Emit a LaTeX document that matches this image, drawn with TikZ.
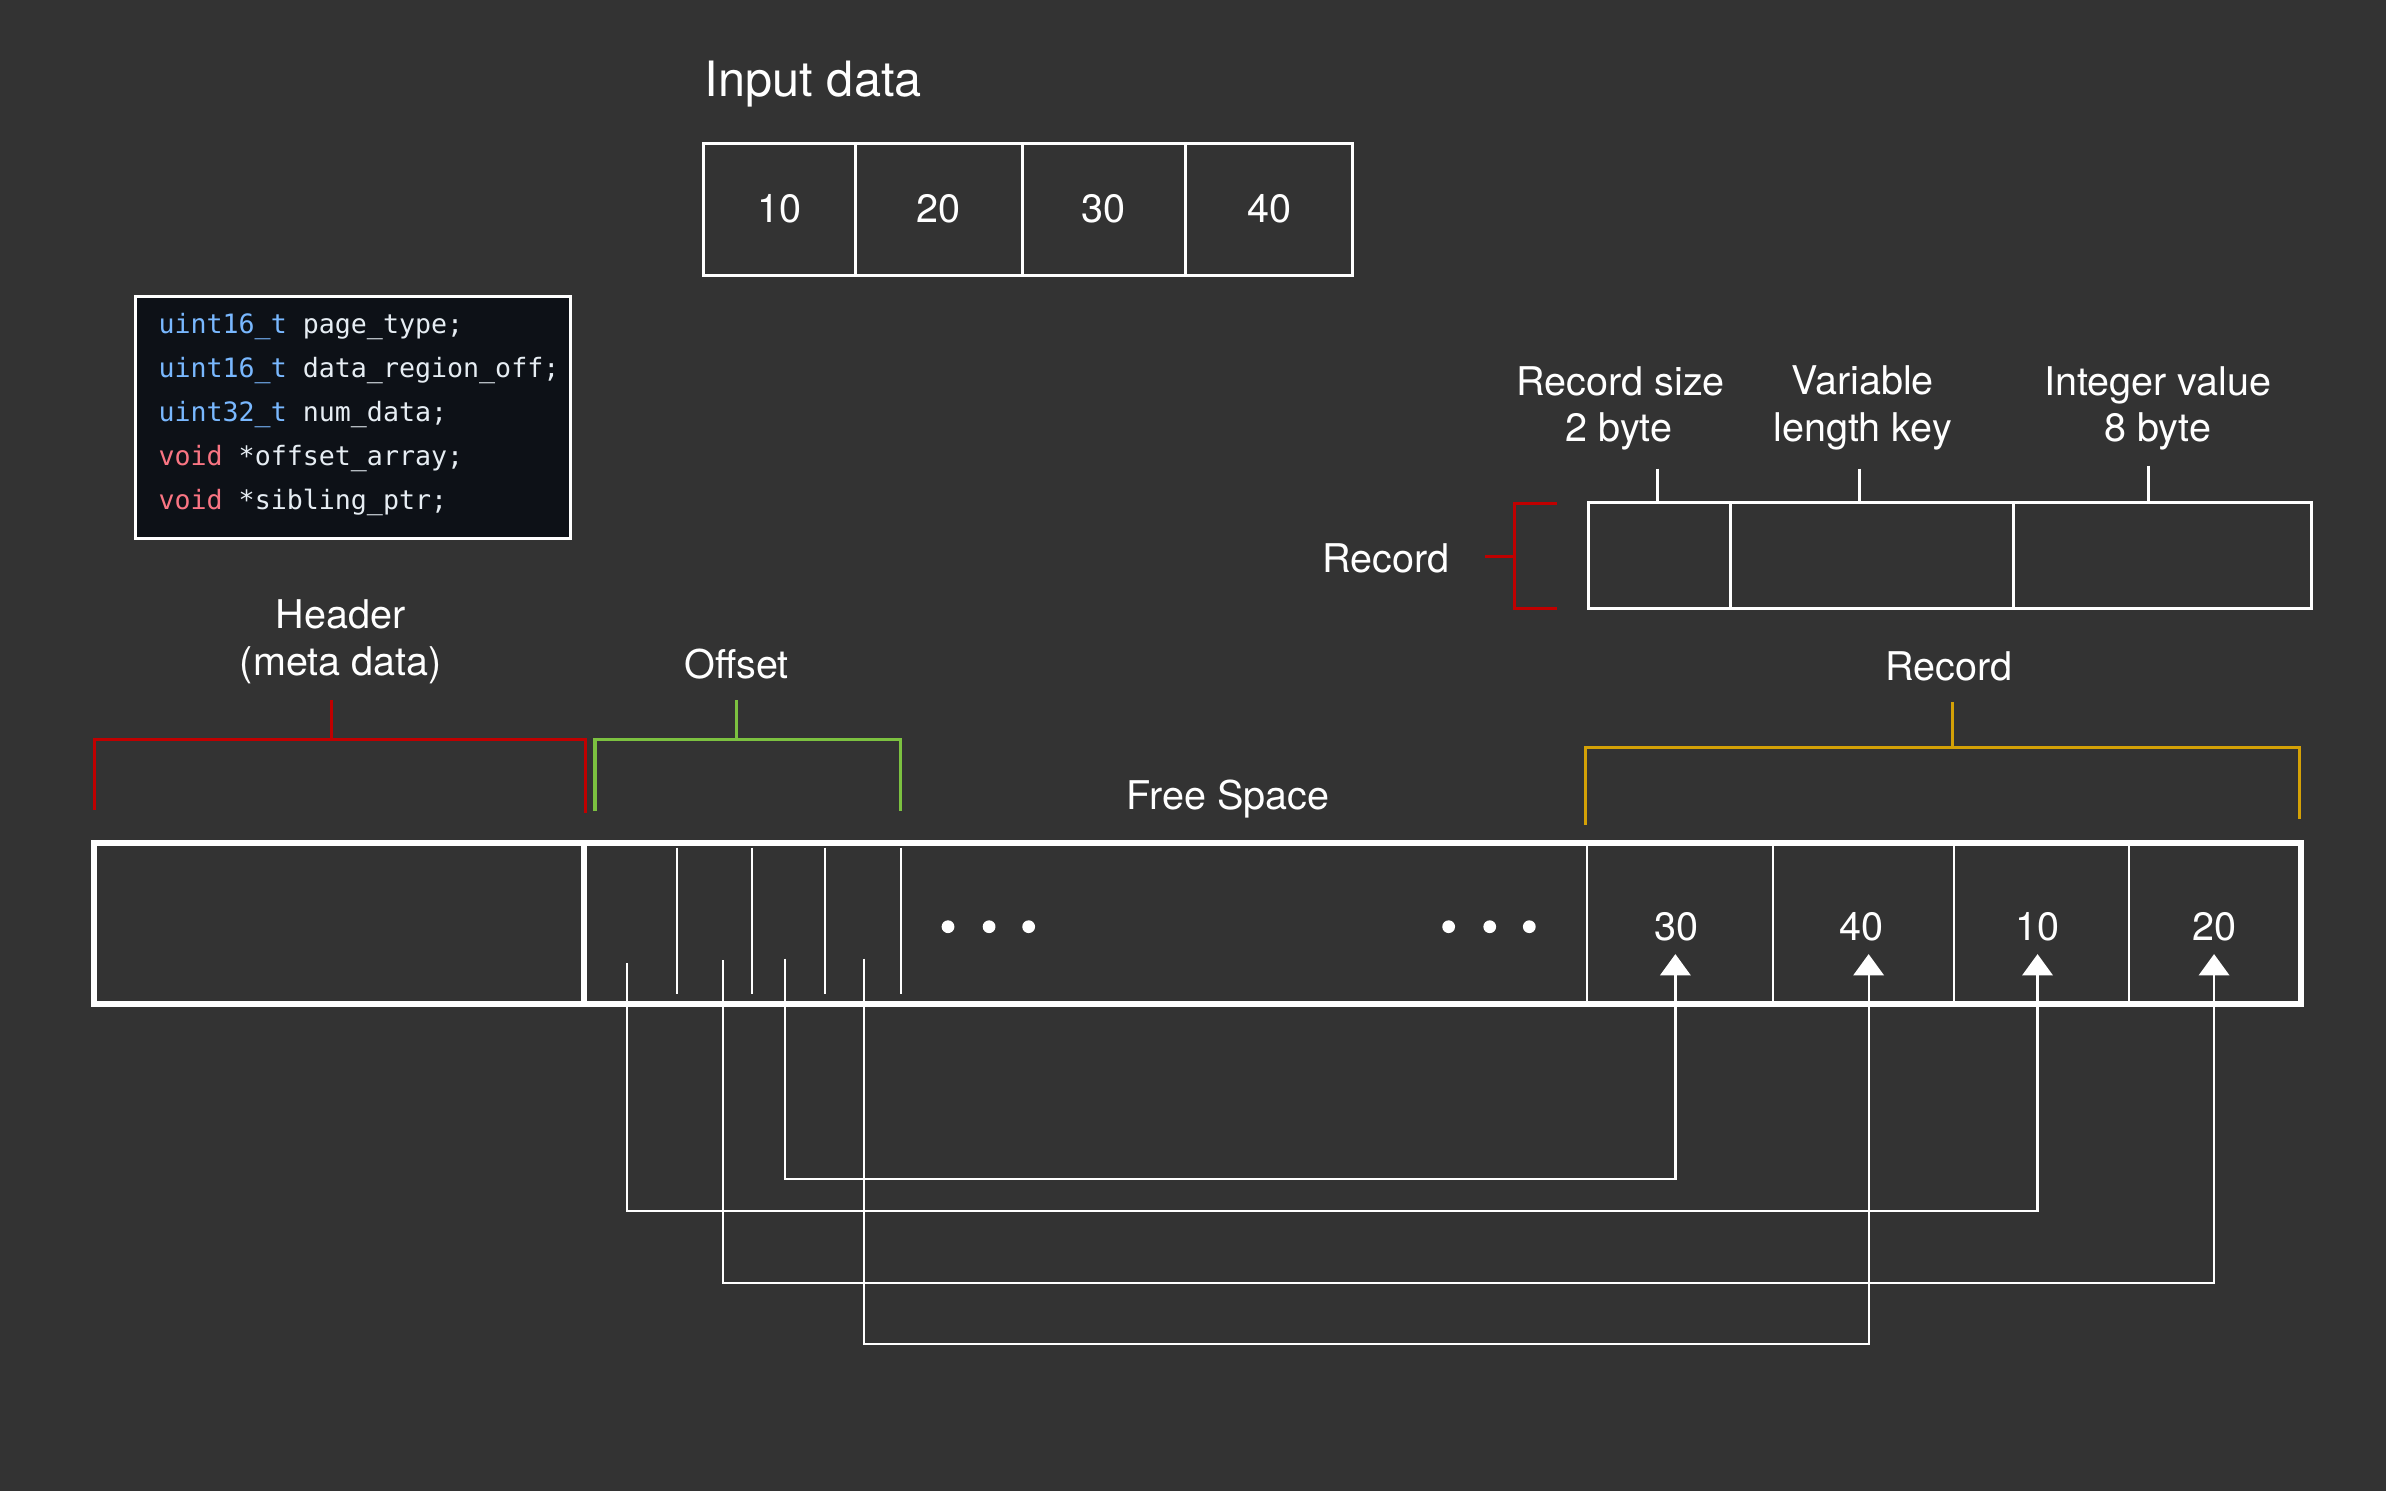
\documentclass[tikz,border=0pt]{standalone}
\usepackage{fontspec}
\setmainfont{TeX Gyre Heros}
\newfontfamily\codefont{DejaVu Sans Mono}
\usetikzlibrary{arrows.meta}
\definecolor{bg}{HTML}{333333}
\definecolor{bred}{HTML}{C00000}
\definecolor{bgreen}{HTML}{7CC140}
\definecolor{bgold}{HTML}{D4A106}
\definecolor{codebg}{HTML}{0D1117}
\definecolor{kwblue}{HTML}{79B8FF}
\definecolor{kwred}{HTML}{F97583}
\definecolor{codetx}{HTML}{E6EDF3}
\begin{document}
\begin{tikzpicture}[x=1pt,y=-1pt,
  lbl/.style={text=white, font=\fontsize{26}{31}\selectfont, inner sep=0pt, anchor=base},
  num/.style={text=white, font=\fontsize{26}{31}\selectfont, inner sep=0pt},
  inbox/.style={draw=white, line width=2pt, minimum height=87pt, inner sep=0pt, text=white, font=\fontsize{26}{31}\selectfont},
  recbox/.style={draw=white, line width=2pt, minimum height=70pt, inner sep=0pt},
  cellbox/.style={draw=white, line width=1.5pt, minimum height=106pt, inner sep=0pt},
  thin/.style={draw=white, line width=1.5pt},
  code/.style={anchor=base west, inner sep=0pt, font=\codefont\fontsize{17.5}{20}\selectfont, text=codetx},
  brk/.style={line width=2pt},
  ptr/.style={draw=white, line width=1.5pt, -{Triangle[width=20pt,length=14pt]}},
  dot/.style={fill=white, draw=none}]
% background
\fill[bg] (0,0) rectangle (1568,980);
\useasboundingbox (0,0) rectangle (1568,980);

% Input data
\node[lbl, anchor=base west, font=\fontsize{32}{38}\selectfont] (intitle) at (463,63.5) {Input data};
\node[inbox, minimum width=100pt] (in1) at (512,137.5) {10};
\node[inbox, minimum width=110pt] (in2) at (617,137.5) {20};
\node[inbox, minimum width=107pt] (in3) at (725.5,137.5) {30};
\node[inbox, minimum width=110pt] (in4) at (834,137.5) {40};

% Code box
\node[draw=white, line width=2pt, fill=codebg, minimum width=286pt, minimum height=159pt, inner sep=0pt] (codebox) at (232,274.5) {};
\node[code] (c1) at (104,219) {\textcolor{kwblue}{uint16\_t} page\_type;};
\node[code] (c2) at (104,248) {\textcolor{kwblue}{uint16\_t} data\_region\_off;};
\node[code] (c3) at (104,277) {\textcolor{kwblue}{uint32\_t} num\_data;};
\node[code] (c4) at (104,306) {\textcolor{kwred}{void} *offset\_array;};
\node[code] (c5) at (104,335) {\textcolor{kwred}{void} *sibling\_ptr;};

% Record detail
\node[lbl] (rs1) at (1065,260) {Record size};
\node[lbl] (rs2) at (1064,290) {2 byte};
\node[lbl] (vk1) at (1224,259) {Variable};
\node[lbl] (vk2) at (1224,290) {length key};
\node[lbl] (iv1) at (1418,260) {Integer value};
\node[lbl] (iv2) at (1418,290) {8 byte};
\node[recbox, minimum width=93pt] (rd1) at (1090.5,365) {};
\node[recbox, minimum width=186pt] (rd2) at (1230,365) {};
\node[recbox, minimum width=196pt] (rd3) at (1421,365) {};
\draw[thin, line width=2pt] (1089,308) -- (1089,330);
\draw[thin, line width=2pt] (1222,308) -- (1222,330);
\draw[thin, line width=2pt] (1412,306) -- (1412,330);
\node[lbl] (recred) at (911,376) {Record};
\draw[bred, brk] (1023,331) -- (995,331) -- (995,400) -- (1023,400);
\draw[bred, brk] (995,366) -- (976,366);

% Brackets above bar
\node[lbl] (hd1) at (224,413) {Header};
\node[lbl] (hd2) at (224,444) {(meta data)};
\draw[bred, brk] (62,532) -- (62,486) -- (385,486) -- (385,534);
\draw[bred, brk] (218,486) -- (218,460);
\node[lbl] (off) at (484,446) {Offset};
\draw[bgreen, brk] (391,533) -- (391,486) -- (592,486) -- (592,533);
\draw[bgreen, brk] (484,486) -- (484,460);
\node[lbl] (recgold) at (1281,447) {Record};
\draw[bgold, brk] (1042,542) -- (1042,491) -- (1511,491) -- (1511,538);
\draw[bgold, brk] (1283,491) -- (1283,461);
\node[lbl] (free) at (807,532) {Free Space};

% Main bar
\node[cellbox, minimum width=122pt] (rc1) at (1104,607) {};
\node[cellbox, minimum width=119pt] (rc2) at (1224.5,607) {};
\node[cellbox, minimum width=115pt] (rc3) at (1341.5,607) {};
\node[cellbox, minimum width=113pt] (rc4) at (1455.5,607) {};
\foreach \x in {445,494,542,592} \draw[thin] (\x,557) -- (\x,653);
\node[draw=white, line width=4pt, minimum width=1450pt, minimum height=106pt, inner sep=0pt] (bar) at (787,607) {};
\draw[white, line width=4pt] (384,554) -- (384,660);
\foreach \x in {623,650,676,952,979,1005} \fill[dot] (\x,609) circle (4.2pt);

\node[num] (r30) at (1102,609) {30};
\node[num] (r40) at (1223,609) {40};
\node[num] (r10) at (1339,609) {10};
\node[num] (r20) at (1455,609) {20};
\coordinate (t30) at (1101,627);
\coordinate (t40) at (1228,627);
\coordinate (t10) at (1339,627);
\coordinate (t20) at (1455,627);

% pointers
\coordinate (p1) at (412,633);
\coordinate (p2) at (475,631);
\coordinate (p3) at (516,630);
\coordinate (p4) at (568,630);
\coordinate (l1) at (0,796);
\coordinate (l2) at (0,843);
\coordinate (l3) at (0,775);
\coordinate (l4) at (0,883);
\draw[ptr] (p1) -- (p1 |- l1) -| (t10);
\draw[ptr] (p2) -- (p2 |- l2) -| (t20);
\draw[ptr] (p3) -- (p3 |- l3) -| (t30);
\draw[ptr] (p4) -- (p4 |- l4) -| (t40);
\end{tikzpicture}
\end{document}
